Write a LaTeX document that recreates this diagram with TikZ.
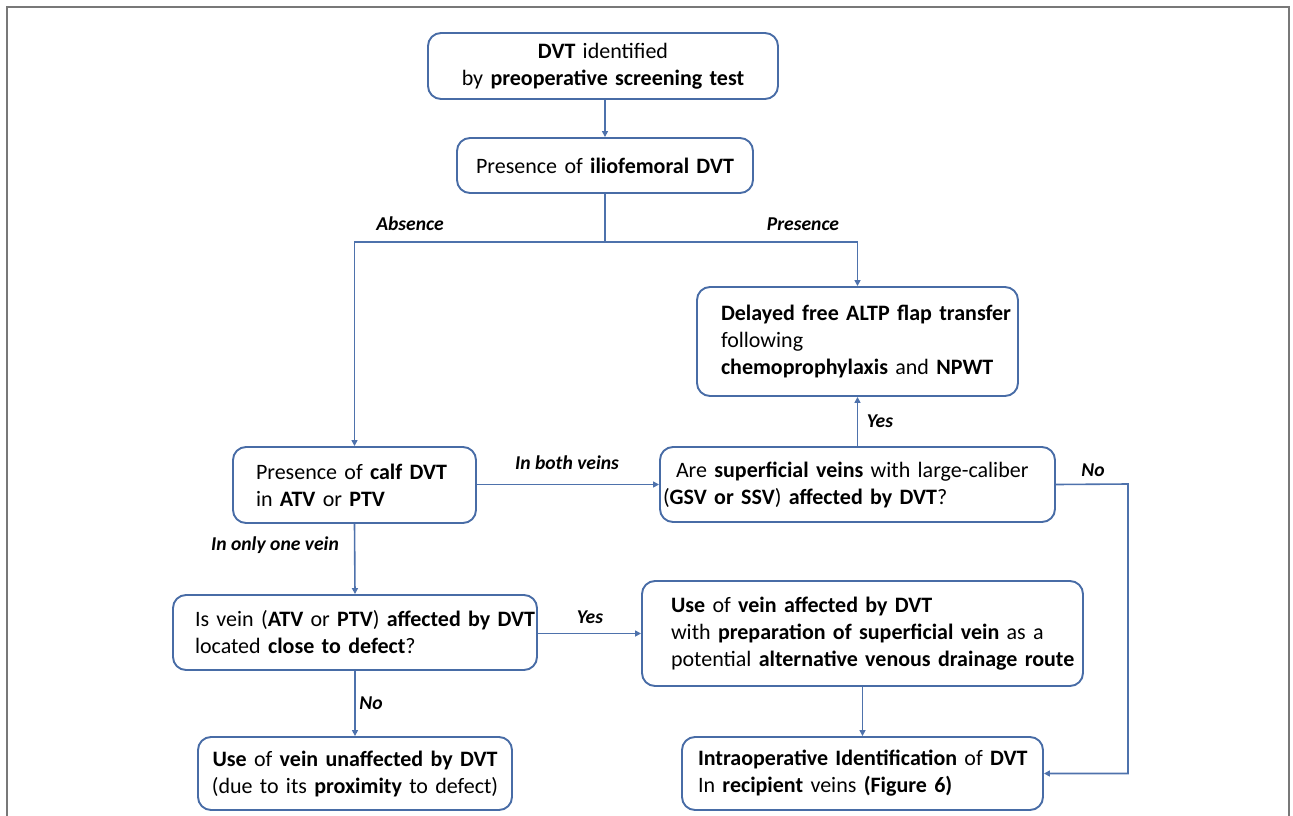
\documentclass[tikz,border=0pt]{standalone}
\usepackage{fontspec}
\setmainfont{Carlito}
\usetikzlibrary{arrows.meta}
\definecolor{boxblue}{RGB}{72,108,166}
\definecolor{linkblue}{RGB}{78,114,172}
\definecolor{framegray}{RGB}{120,120,120}
\tikzset{
  box/.style={draw=boxblue, line width=1.9pt, rounded corners=13pt, inner sep=0pt,
    font=\fontsize{22}{27}\selectfont},
  lbox/.style={box, align=left},
  cbox/.style={box, align=center},
  link/.style={draw=linkblue, line width=1.6pt},
  arr/.style={link, -{Triangle[length=6pt,width=6pt]}},
  lab/.style={font=\fontsize{19.6}{23}\selectfont\bfseries\itshape, inner sep=1pt}
}
\begin{document}
\begin{tikzpicture}[x=1pt,y=-1pt]
\useasboundingbox (0,0) rectangle (1293,816);
\draw[framegray, line width=1.3pt] (7,816) -- (7,7) -- (1289,7) -- (1289,816);

\node[cbox, minimum width=350pt, minimum height=66pt, text width=330pt] (b1) at (603,66)
  {\textbf{DVT} identified\\by \textbf{preoperative screening test}};
\node[cbox, minimum width=296pt, minimum height=55pt, text width=280pt] (b2) at (605,165.5)
  {Presence of \textbf{iliofemoral DVT}};
\node[lbox, minimum width=321pt, minimum height=109pt, text width=273pt] (b3) at (857.5,341.5)
  {\mbox{\textbf{Delayed free ALTP flap transfer}}\\following\\\mbox{\textbf{chemoprophylaxis} and \textbf{NPWT}}};
\node[lbox, minimum width=395pt, minimum height=75pt, text width=389pt] (b4) at (857.5,484.5)
  {\mbox{\hspace*{13pt}Are \textbf{superficial veins} with large-caliber}\\\mbox{(\textbf{GSV or SSV}) \textbf{affected by DVT}?}};
\node[lbox, minimum width=243pt, minimum height=76pt, text width=197pt] (b5) at (354.5,485)
  {\mbox{Presence of \textbf{calf DVT}}\\in \textbf{ATV} or \textbf{PTV}};
\node[lbox, minimum width=364pt, minimum height=75pt, text width=320pt] (b6) at (355,632.5)
  {\mbox{Is vein (\textbf{ATV} or \textbf{PTV}) \textbf{affected by DVT}}\\located \textbf{close to defect}?};
\node[lbox, minimum width=441pt, minimum height=105pt, text width=383pt] (b7) at (862.5,633.5)
  {\mbox{\textbf{Use} of \textbf{vein affected by DVT}}\\\mbox{with \textbf{preparation of superficial vein} as a}\\\mbox{potential \textbf{alternative venous drainage route}}};
\node[cbox, minimum width=314pt, minimum height=73pt, text width=300pt] (b8) at (355,773.5)
  {\textbf{Use} of \textbf{vein unaffected by DVT}\\(due to its \textbf{proximity} to defect)};
\node[lbox, minimum width=361pt, minimum height=73pt, text width=329pt] (b9) at (862.5,773.5)
  {\mbox{\textbf{Intraoperative Identification} of \textbf{DVT}}\\In \textbf{recipient} veins \textbf{(Figure 6)}};

\coordinate (j) at (605,242);
\coordinate (c) at (1128,484);

\draw[arr] (b2.north |- b1.south) -- (b2.north);
\draw[link] (b2.south) -- (j);
\draw[arr] (j) -| (b5.north);
\draw[arr] (j) -| (b3.north);
\draw[arr] (b4.north) -- (b3.south);
\draw[arr] (b5.east |- b4.west) -- (b4.west);
\draw[arr] (b5.south) -- (b6.north);
\draw[arr] (b6.east |- b7.west) -- (b7.west);
\draw[arr] (b6.south) -- (b8.north);
\draw[arr] (b7.south) -- (b9.north);
\draw[arr] (b4.east) -- (c) |- (b9.east);

\node[lab] (l1) at (410,224) {Absence};
\node[lab] (l2) at (803,224) {Presence};
\node[lab] (l3) at (880,421) {Yes};
\node[lab] (l4) at (567,463) {In both veins};
\node[lab] (l5) at (1093,470) {No};
\node[lab] (l6) at (275,545) {In only one vein};
\node[lab] (l7) at (590,617) {Yes};
\node[lab] (l8) at (371,703) {No};
\end{tikzpicture}
\end{document}
